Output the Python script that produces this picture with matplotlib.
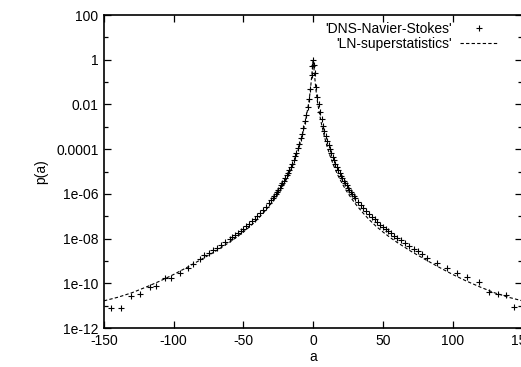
import numpy as np
import matplotlib
matplotlib.use('Agg')
import matplotlib.pyplot as plt
from matplotlib.ticker import FixedLocator, NullFormatter

plt.rcParams['font.family'] = ['Liberation Sans', 'DejaVu Sans']

# DNS data, negative side: a and log10 p(a)
left_a = [-144.8, -137.6, -130.4, -124.5, -117.3, -112.4, -106.5, -101.7, -95.7, -89.7,
          -86, -81, -78, -75, -72, -69, -66, -63, -60, -58, -56, -54, -52, -50, -48,
          -46, -44, -42, -40, -38, -36, -34, -32, -30, -29, -28, -27, -26, -25, -24,
          -23, -22, -21, -20, -19, -18, -17, -16, -15, -14, -13, -12, -11, -10, -9,
          -8, -7, -6, -5, -4, -3, -2, -1, -0.5]
left_logp = [-11.08, -11.12, -10.57, -10.49, -10.15, -10.12, -9.78, -9.75, -9.52, -9.33,
             -9.14, -8.9, -8.74, -8.63, -8.52, -8.40, -8.28, -8.16, -8.03, -7.94, -7.85,
             -7.75, -7.65, -7.55, -7.45, -7.34, -7.22, -7.10, -6.98, -6.86, -6.72, -6.57,
             -6.42, -6.27, -6.18, -6.09, -6.0, -5.91, -5.82, -5.72, -5.62, -5.5, -5.4,
             -5.29, -5.17, -5.05, -4.92, -4.78, -4.65, -4.48, -4.3, -4.15, -3.95, -3.75,
             -3.52, -3.3, -3.05, -2.75, -2.45, -2.1, -1.75, -1.3, -0.7, -0.3]

# DNS data, centre and positive side
right_a = [0, 0.5, 1, 2, 3, 4, 5, 6, 7, 8, 9, 10, 11, 12, 13, 14, 15, 16, 17, 18, 19,
           20, 21, 22, 23, 24, 25, 26, 27, 28, 29, 30, 32, 34, 36, 38, 40, 42, 44, 46,
           48, 50, 52, 54, 56, 58, 60, 63, 66, 69, 72, 75, 78, 81.8, 89, 96.2, 103.4,
           110.6, 119, 126.2, 132.2, 138.1, 144.1]
right_logp = [0.0, -0.25, -0.6, -1.2, -1.65, -2.0, -2.35, -2.65, -2.95, -3.2, -3.43,
              -3.65, -3.83, -4.0, -4.18, -4.35, -4.5, -4.64, -4.78, -4.92, -5.05, -5.18,
              -5.3, -5.41, -5.52, -5.62, -5.72, -5.82, -5.92, -6.01, -6.1, -6.18, -6.34,
              -6.49, -6.63, -6.77, -6.9, -7.02, -7.14, -7.26, -7.37, -7.47, -7.57, -7.67,
              -7.76, -7.86, -7.95, -8.08, -8.2, -8.33, -8.45, -8.57, -8.7, -8.88, -9.08,
              -9.33, -9.55, -9.73, -9.93, -10.37, -10.48, -10.52, -11.07]

# LN-superstatistics curve (symmetric), |a| and log10 p(a)
ln_abs_a = [0, 1, 2, 3, 4, 5, 6, 8, 10, 12, 15, 18, 21, 24, 27, 30, 35, 40, 45, 50,
            55, 60, 70, 80, 90, 100, 110, 120, 130, 140, 150]
ln_logp = [0.0, -0.7, -1.35, -1.85, -2.22, -2.57, -2.88, -3.42, -3.88, -4.28, -4.78,
           -5.2, -5.56, -5.88, -6.16, -6.42, -6.8, -7.14, -7.44, -7.7, -7.94, -8.16,
           -8.56, -8.92, -9.27, -9.6, -9.9, -10.17, -10.42, -10.62, -10.78]

ytick_vals = [1e2, 1, 1e-2, 1e-4, 1e-6, 1e-8, 1e-10, 1e-12]
ytick_labels = ['100', '1', '0.01', '0.0001', '1e-06', '1e-08', '1e-10', '1e-12']
xtick_vals = [-150, -100, -50, 0, 50, 100, 150]

dns_a = np.array(left_a + right_a)
dns_p = 10 ** np.array(left_logp + right_logp)
ln_a = np.concatenate([-np.array(ln_abs_a[::-1]), np.array(ln_abs_a[1:])])
ln_p = 10 ** np.concatenate([np.array(ln_logp[::-1]), np.array(ln_logp[1:])])

fig = plt.figure(figsize=(5.21, 3.67), dpi=100)
ax = fig.add_axes([0.1996, 0.106, 0.803, 0.853])

ax.plot(dns_a, dns_p, linestyle='none', marker='+', color='black',
        markersize=4.5, markeredgewidth=0.8, label="'DNS-Navier-Stokes'")
ax.plot(ln_a, ln_p, color='black', linewidth=0.8, dashes=(3, 2),
        label="'LN-superstatistics'")

ax.set_yscale('log')
ax.set_xlim(-150, 150)
ax.set_ylim(1e-12, 1e2)
ax.yaxis.set_major_locator(FixedLocator(ytick_vals))
ax.set_yticklabels(ytick_labels)
ax.yaxis.set_minor_locator(FixedLocator([10.0 ** k for k in range(-11, 2, 2)]))
ax.yaxis.set_minor_formatter(NullFormatter())
ax.set_xticks(xtick_vals)
ax.set_xticklabels([str(v) for v in xtick_vals])

ax.tick_params(which='both', direction='in', top=True, right=True, labelsize=10, pad=4)
ax.tick_params(which='major', length=5, width=0.9)
ax.tick_params(which='minor', length=3, width=0.9)
for s in ax.spines.values():
    s.set_linewidth(1.2)

ax.set_xlabel('a', fontsize=10, labelpad=2)
ax.set_ylabel('p(a)', fontsize=10, labelpad=6)

ax.legend(loc='upper right', frameon=False, markerfirst=False, fontsize=10,
          handlelength=2.6, handletextpad=0.6, borderaxespad=0.1, labelspacing=0.05,
          bbox_to_anchor=(0.955, 1.0))

fig.savefig('out.png', dpi=100)
